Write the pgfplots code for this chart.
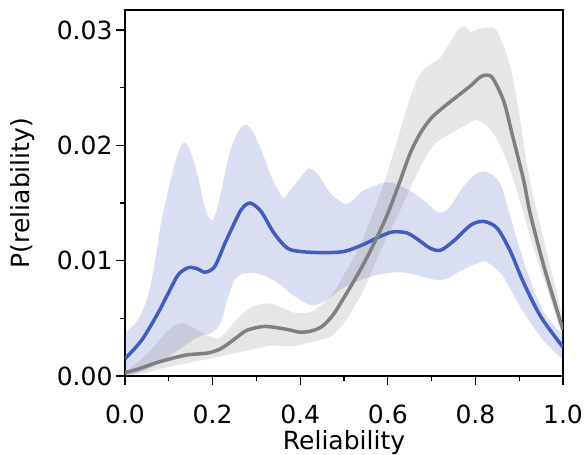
\documentclass[border=0pt]{standalone}
\usepackage{fontspec}
\setmainfont{DejaVu Sans}
\usepackage{pgfplots}
\pgfplotsset{compat=1.18}
\usepgfplotslibrary{fillbetween}

\definecolor{relblue}{RGB}{64,92,190}
\definecolor{relgray}{RGB}{128,128,128}

\begin{document}
\begin{tikzpicture}
\begin{axis}[
  scale only axis, width=438pt, height=366pt,
  xmin=0, xmax=1, ymin=0, ymax=0.03174,
  xtick={0,0.2,0.4,0.6,0.8,1.0}, ytick={0,0.01,0.02,0.03},
  minor x tick num=1, minor y tick num=1,
  tick align=outside, tick pos=left,
  major tick length=9pt, minor tick length=5pt,
  every tick/.style={black, line width=1.3pt},
  axis line style={line width=1.6pt},
  scaled y ticks=false,
  xticklabel style={anchor=base, yshift=-38pt, /pgf/number format/.cd, fixed, fixed zerofill, precision=1},
  yticklabel style={/pgf/number format/.cd, fixed, fixed zerofill, precision=2},
  /pgf/number format/assume math mode=true,
  tick label style={font=\fontsize{25}{30}\selectfont},
  label style={font=\fontsize{25}{30}\selectfont},
  xlabel={Reliability}, ylabel={P(reliability)},
  xlabel style={at={(axis description cs:0.5,0)}, anchor=base, yshift=-74pt},
  ylabel style={at={(axis description cs:-0.234,0.5)}, anchor=center},
]
% blue band
\addplot[name path=bu, draw=none, smooth] coordinates {
(0,0.0037)(0.03,0.0049)(0.052,0.0069)(0.068,0.0098)(0.08,0.0128)(0.095,0.0155)(0.114,0.0185)(0.13,0.0201)(0.145,0.0199)(0.165,0.0175)(0.18,0.0150)(0.19,0.0138)(0.20,0.0135)(0.21,0.0145)(0.225,0.0170)(0.24,0.0195)(0.26,0.0213)(0.275,0.0218)(0.29,0.0213)(0.31,0.0197)(0.335,0.0172)(0.36,0.0155)(0.375,0.0160)(0.40,0.0172)(0.42,0.0180)(0.44,0.0175)(0.468,0.0159)(0.49,0.0152)(0.505,0.0149)(0.525,0.0154)(0.545,0.0161)(0.60,0.0168)(0.645,0.0162)(0.68,0.0153)(0.715,0.0142)(0.74,0.0146)(0.77,0.0163)(0.80,0.0175)(0.825,0.0177)(0.855,0.0168)(0.875,0.0145)(0.895,0.0118)(0.925,0.0083)(0.96,0.0053)(1.0,0.0036)
};
\addplot[name path=bl, draw=none, smooth] coordinates {
(0,0.0)(0.04,0.0004)(0.08,0.0012)(0.12,0.0022)(0.15,0.0030)(0.175,0.0035)(0.195,0.0037)(0.21,0.0041)(0.222,0.0050)(0.235,0.0068)(0.25,0.0083)(0.27,0.0089)(0.30,0.0089)(0.33,0.0085)(0.355,0.0079)(0.38,0.0071)(0.42,0.0062)(0.44,0.0062)(0.468,0.0068)(0.50,0.0077)(0.544,0.0084)(0.58,0.0088)(0.62,0.0090)(0.65,0.0089)(0.72,0.0083)(0.76,0.0090)(0.80,0.0097)(0.825,0.0099)(0.86,0.0088)(0.885,0.0072)(0.91,0.0055)(0.955,0.0031)(1.0,0.0014)
};
\addplot[fill=relblue, fill opacity=0.2, draw=none] fill between[of=bu and bl];
% gray band
\addplot[name path=gu, draw=none, smooth] coordinates {
(0,0.0004)(0.03,0.0012)(0.065,0.0025)(0.10,0.0040)(0.13,0.0046)(0.16,0.0041)(0.19,0.0035)(0.215,0.0033)(0.235,0.0040)(0.255,0.0049)(0.29,0.0060)(0.33,0.0063)(0.36,0.0059)(0.385,0.0055)(0.42,0.0055)(0.45,0.0062)(0.475,0.0072)(0.50,0.0088)(0.535,0.0112)(0.565,0.0140)(0.59,0.0166)(0.61,0.0190)(0.63,0.0215)(0.648,0.0238)(0.665,0.0255)(0.68,0.0265)(0.70,0.0271)(0.72,0.0276)(0.74,0.0288)(0.765,0.0302)(0.78,0.0302)(0.788,0.0298)(0.81,0.0301)(0.84,0.0302)(0.855,0.0295)(0.88,0.0268)(0.90,0.0228)(0.915,0.0190)(0.93,0.0160)(0.96,0.0112)(1.0,0.0049)
};
\addplot[name path=gl, draw=none, smooth] coordinates {
(0,0.0)(0.05,0.0003)(0.10,0.0008)(0.18,0.0014)(0.255,0.0020)(0.33,0.0026)(0.385,0.0026)(0.42,0.0029)(0.468,0.0034)(0.50,0.0046)(0.52,0.0058)(0.544,0.0074)(0.57,0.0097)(0.60,0.0122)(0.625,0.0141)(0.665,0.0174)(0.696,0.0196)(0.72,0.0205)(0.77,0.0216)(0.805,0.0222)(0.84,0.0211)(0.87,0.0188)(0.895,0.0160)(0.925,0.0121)(0.96,0.0079)(1.0,0.0034)
};
\addplot[fill=relgray, fill opacity=0.2, draw=none] fill between[of=gu and gl];
% means
\addplot[relblue, line width=3.5pt, smooth] coordinates {
(0,0.0015)(0.038,0.0031)(0.076,0.0055)(0.099,0.0072)(0.122,0.0088)(0.145,0.0094)(0.165,0.0093)(0.183,0.0090)(0.205,0.0095)(0.228,0.0115)(0.244,0.0128)(0.265,0.0144)(0.285,0.0150)(0.31,0.0143)(0.34,0.0124)(0.37,0.0111)(0.40,0.0108)(0.45,0.0107)(0.50,0.0108)(0.544,0.0114)(0.582,0.0121)(0.612,0.0125)(0.644,0.0124)(0.67,0.0118)(0.696,0.0111)(0.72,0.0109)(0.75,0.0117)(0.79,0.0131)(0.82,0.0134)(0.85,0.0128)(0.88,0.0108)(0.91,0.0081)(0.95,0.0051)(1.0,0.0025)
};
\addplot[relgray, line width=3.5pt, smooth] coordinates {
(0,0.0003)(0.03,0.0006)(0.076,0.0012)(0.137,0.0018)(0.19,0.0020)(0.22,0.0024)(0.25,0.0032)(0.275,0.0039)(0.30,0.0042)(0.32,0.0043)(0.345,0.0042)(0.375,0.0040)(0.40,0.0038)(0.425,0.0039)(0.45,0.0043)(0.475,0.0053)(0.50,0.0068)(0.525,0.0084)(0.55,0.0101)(0.575,0.0120)(0.60,0.0141)(0.625,0.0166)(0.651,0.0193)(0.675,0.0211)(0.70,0.0224)(0.73,0.0234)(0.76,0.0243)(0.79,0.0252)(0.81,0.0259)(0.825,0.0261)(0.84,0.0258)(0.865,0.0238)(0.885,0.0208)(0.91,0.0170)(0.925,0.0141)(0.955,0.0097)(0.98,0.0065)(1.0,0.0040)
};
\end{axis}
\pgfresetboundingbox
\useasboundingbox (-125pt,-79pt) rectangle (462pt,376pt);
\end{tikzpicture}
\end{document}
